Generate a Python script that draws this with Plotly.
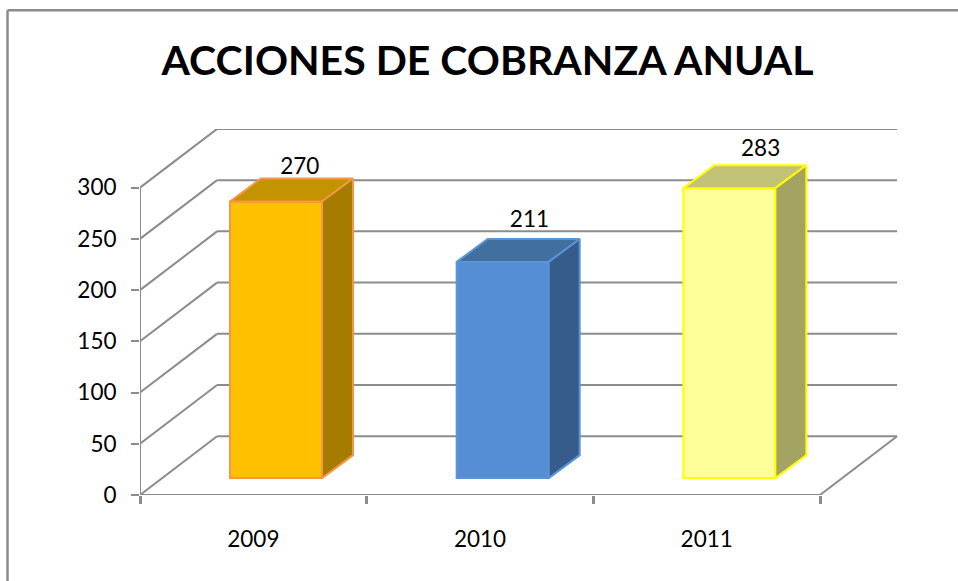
import plotly.graph_objects as go

years = ["2009", "2010", "2011"]
values = [270, 211, 283]
y_ticks = [0, 50, 100, 150, 200, 250, 300]
title_text = "ACCIONES DE COBRANZA ANUAL"

front_colors = ["#FFC000", "#558ED5", "#FFFF99"]
top_colors = ["#C49300", "#41709E", "#C3C377"]
side_colors = ["#A67C00", "#355C8A", "#A3A362"]
line_colors = ["#F79646", "#5B93D8", "#FFFF00"]

GREY = "#8C8C8C"
FONT = "Lato"
W, H = 958, 581
L, R, T, B = 140, 898, 128.5, 495
UX = 226.67  # px per category
UY = 1.026   # px per value unit
DEPTH_X, DEPTH_Y = 0.34, 57.3      # wall depth, in axis units
BAR_DX, BAR_DY = 0.1368, 22.4      # bar depth, in axis units
BAR_BASE, BAR_SHIFT, BAR_W = 16.5, 0.10, 0.406
LABEL_DX = [0.105, 0.118, 0.138]
LABEL_DY = [32, 40, 37]

fig = go.Figure()
centers = [i + 0.5 + BAR_SHIFT for i in range(3)]

fig.add_trace(go.Bar(
    x=centers, y=values, base=BAR_BASE, width=BAR_W,
    marker=dict(color=front_colors, line=dict(color=line_colors, width=2)),
    hoverinfo="skip", showlegend=False))

for c, v, tc, sc, lc in zip(centers, values, top_colors, side_colors, line_colors):
    xl, xr = c - BAR_W / 2, c + BAR_W / 2
    lo, hi = BAR_BASE, BAR_BASE + v
    fig.add_trace(go.Scatter(
        x=[xl, xr, xr + BAR_DX, xl + BAR_DX, xl],
        y=[hi, hi, hi + BAR_DY, hi + BAR_DY, hi],
        mode="lines", fill="toself", fillcolor=tc,
        line=dict(color=lc, width=2), hoverinfo="skip", showlegend=False))
    fig.add_trace(go.Scatter(
        x=[xr, xr + BAR_DX, xr + BAR_DX, xr, xr],
        y=[hi, hi + BAR_DY, lo + BAR_DY, lo, hi],
        mode="lines", fill="toself", fillcolor=sc,
        line=dict(color=lc, width=2), hoverinfo="skip", showlegend=False))

fig.add_trace(go.Scatter(
    x=[c + d for c, d in zip(centers, LABEL_DX)],
    y=[BAR_BASE + v + d for v, d in zip(values, LABEL_DY)],
    mode="text", text=[str(v) for v in values], textposition="middle center",
    textfont=dict(family=FONT, size=22.5, color="#000000"),
    hoverinfo="skip", showlegend=False))

line_style = dict(color=GREY, width=2)
shapes = []
for t in y_ticks:
    shapes.append(dict(type="line", xref="x", yref="y", layer="below",
                       x0=0, y0=t, x1=DEPTH_X, y1=t + DEPTH_Y, line=line_style))
    shapes.append(dict(type="line", xref="x", yref="y", layer="below",
                       x0=DEPTH_X, y0=t + DEPTH_Y, x1=len(years) + DEPTH_X,
                       y1=t + DEPTH_Y, line=line_style))
shapes += [
    dict(type="line", xref="x", yref="y", layer="below", x0=0, y0=0, x1=0, y1=300, line=line_style),
    dict(type="line", xref="x", yref="y", layer="below", x0=0, y0=0, x1=3, y1=0, line=line_style),
    dict(type="line", xref="x", yref="y", layer="below", x0=3, y0=0, x1=3 + DEPTH_X, y1=DEPTH_Y, line=line_style),
]
# outer chart frame (top and left edges are the only ones inside the picture)
px = lambda v: (v - L) / (R - L)
py = lambda v: (B - v) / (B - T)
frame = dict(color=GREY, width=2.5)
shapes += [
    dict(type="line", xref="paper", yref="paper", x0=px(7.5), y0=py(9.5), x1=px(W + 5), y1=py(9.5), line=frame),
    dict(type="line", xref="paper", yref="paper", x0=px(7.5), y0=py(9.5), x1=px(7.5), y1=py(H + 5), line=frame),
]

fig.update_layout(
    width=W, height=H, autosize=False,
    margin=dict(l=L, r=W - R, t=T, b=H - B, pad=0),
    paper_bgcolor="white", plot_bgcolor="white",
    showlegend=False, shapes=shapes,
    title=dict(text=f"<b>{title_text}</b>", x=487.5 / W, y=1 - 60.5 / H,
               xanchor="center", yanchor="middle",
               font=dict(family=FONT, size=41, color="#000000")),
    font=dict(family=FONT, color="#000000"),
    xaxis=dict(range=[0, (R - L) / UX], tickvals=[0.5, 1.5, 2.5], ticktext=years,
               ticks="", showgrid=False, zeroline=False, showline=False,
               ticklabelstandoff=28, tickfont=dict(family=FONT, size=22.5, color="#000000"),
               minor=dict(tickvals=[0, 1, 2, 3], ticks="outside", ticklen=8,
                          tickcolor=GREY, tickwidth=2.5)),
    yaxis=dict(range=[0, (B - T) / UY], tickvals=y_ticks, ticks="outside", ticklen=8,
               tickcolor=GREY, tickwidth=2, showgrid=False, zeroline=False, showline=False,
               ticklabelstandoff=10, tickfont=dict(family=FONT, size=22.5, color="#000000")),
)

fig.write_html("out.html", config={"displayModeBar": False},
               post_script="document.body.style.margin='0';document.body.style.overflow='hidden';")
